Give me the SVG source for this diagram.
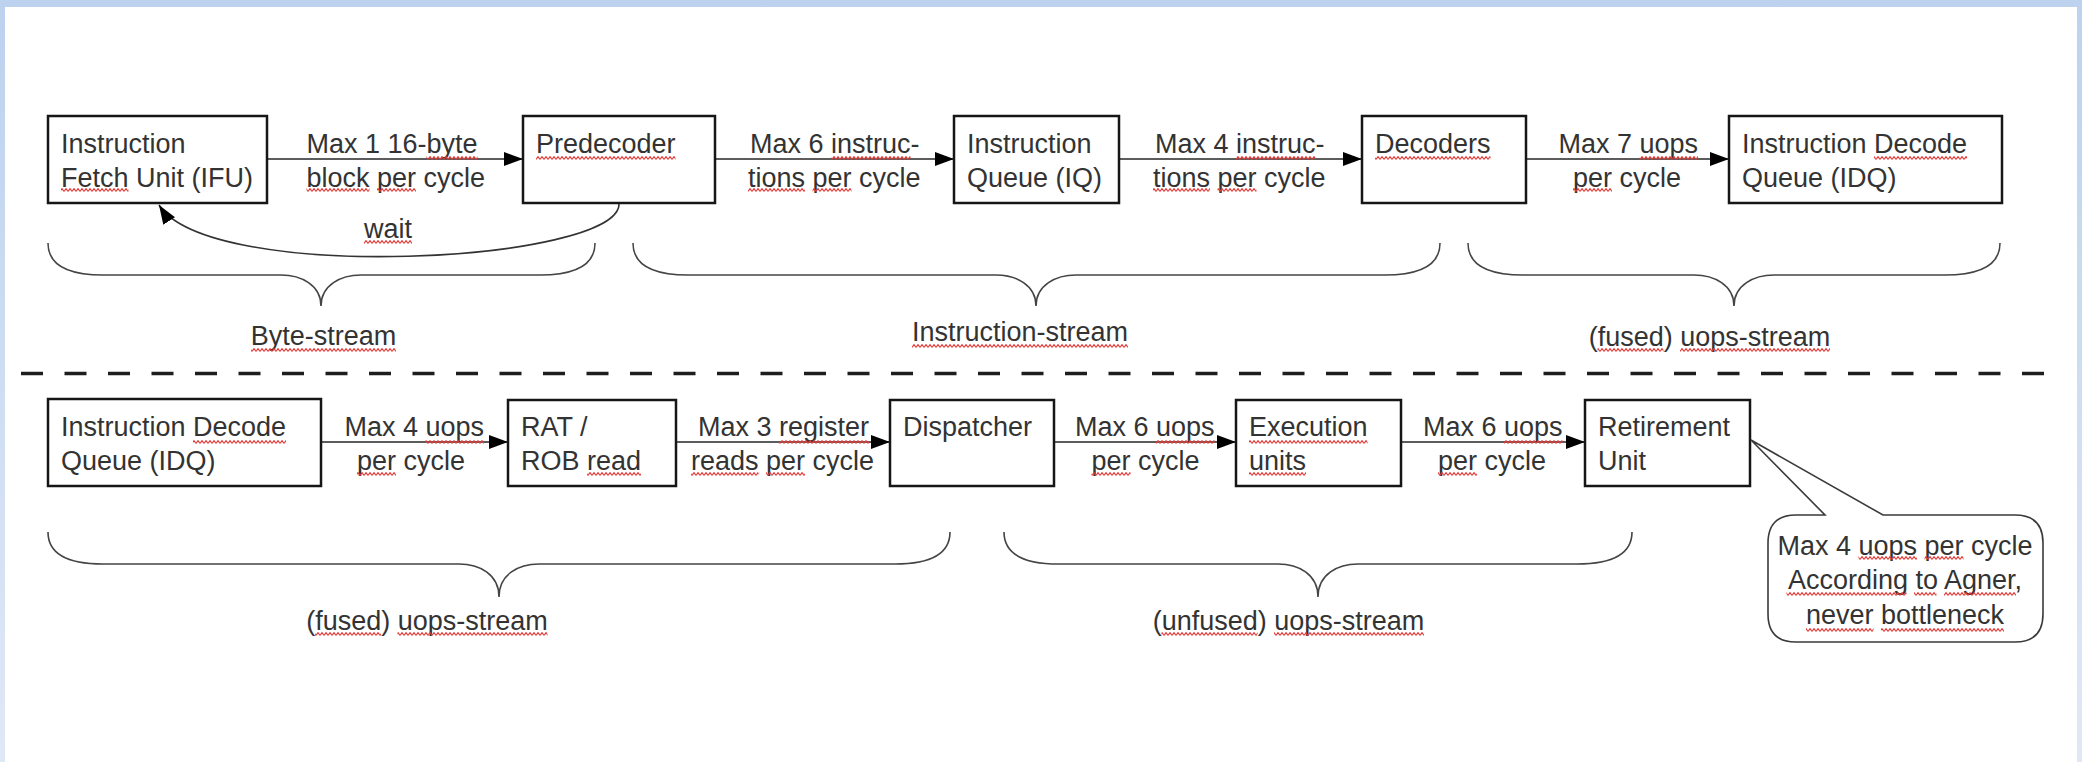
<svg xmlns="http://www.w3.org/2000/svg" width="2082" height="762" viewBox="0 0 2082 762">
  <defs>
    <linearGradient id="frameBg" x1="0" y1="0" x2="0" y2="1">
      <stop offset="0" stop-color="#bdd2ee"/>
      <stop offset="1" stop-color="#dfe8f6"/>
    </linearGradient>
    <marker id="arrow" markerUnits="userSpaceOnUse" markerWidth="20" markerHeight="14" refX="19" refY="7" orient="auto">
      <path d="M0,0 L19,7 L0,14 Z" fill="#000"/>
    </marker>
    <pattern id="squiggle" width="4" height="4" patternUnits="userSpaceOnUse">
      <path d="M0,3.4 L2,0.6 L4,3.4" fill="none" stroke="#e53935" stroke-width="1.1"/>
    </pattern>
    <style>
      text { font-family: "Liberation Sans", Arial, sans-serif; font-size: 27px; fill: #333; }
      .mid { text-anchor: middle; }
      .box { fill: #fff; stroke: #161616; stroke-width: 2.5; }
      .flow { fill: none; stroke: #5c5c5c; stroke-width: 2; marker-end: url(#arrow); }
      .back { fill: none; stroke: #333; stroke-width: 1.6; marker-end: url(#arrow); }
      .brace { fill: none; stroke: #444; stroke-width: 1.6; }
      .divider { fill: none; stroke: #1e1e1e; stroke-width: 3.5; stroke-dasharray: 22 21.5; }
      .callout { fill: #fff; stroke: #3a3a3a; stroke-width: 1.6; }
      .sq { fill: url(#squiggle); }
    </style>
  </defs>

  <!-- page -->
  <rect x="0" y="0" width="2082" height="762" fill="url(#frameBg)"/>
  <rect x="5" y="7" width="2072" height="755" fill="#fff"/>

  <!-- stage divider -->
  <line class="divider" x1="21" y1="373.5" x2="2052" y2="373.5"/>

  <!-- connectors -->
  <g id="connectors">
    <line class="flow" x1="267" y1="159" x2="523" y2="159"/>
    <line class="flow" x1="715" y1="159" x2="954" y2="159"/>
    <line class="flow" x1="1119" y1="159" x2="1362" y2="159"/>
    <line class="flow" x1="1526" y1="159" x2="1729" y2="159"/>
    <line class="flow" x1="321" y1="442" x2="508" y2="442"/>
    <line class="flow" x1="676" y1="442" x2="890" y2="442"/>
    <line class="flow" x1="1054" y1="442" x2="1236" y2="442"/>
    <line class="flow" x1="1401" y1="442" x2="1585" y2="442"/>
    <path class="back" d="M619,204 C619,262 210,285 159,205"/>

    <text x="306.5" y="153">Max 1 16-byte</text>
    <text x="306.5" y="187">block per cycle</text>
    <text x="750" y="153">Max 6 instruc-</text>
    <text x="748" y="187">tions per cycle</text>
    <text x="1155" y="153">Max 4 instruc-</text>
    <text x="1153" y="187">tions per cycle</text>
    <text x="1558.5" y="153">Max 7 uops</text>
    <text x="1573" y="187">per cycle</text>
    <text class="mid" x="388" y="238">wait</text>

    <text x="344.5" y="436">Max 4 uops</text>
    <text x="357" y="470">per cycle</text>
    <text x="698" y="436">Max 3 register</text>
    <text x="691" y="470">reads per cycle</text>
    <text x="1075" y="436">Max 6 uops</text>
    <text x="1091.5" y="470">per cycle</text>
    <text x="1423" y="436">Max 6 uops</text>
    <text x="1438" y="470">per cycle</text>
  </g>

  <!-- front end -->
  <g id="ifu">
    <rect class="box" x="48" y="116" width="219" height="87"/>
    <text x="61" y="153">Instruction</text>
    <text x="61" y="187">Fetch Unit (IFU)</text>
  </g>
  <g id="predecoder">
    <rect class="box" x="523" y="116" width="192" height="87"/>
    <text x="536" y="153">Predecoder</text>
  </g>
  <g id="iq">
    <rect class="box" x="954" y="116" width="165" height="87"/>
    <text x="967" y="153">Instruction</text>
    <text x="967" y="187">Queue (IQ)</text>
  </g>
  <g id="decoders">
    <rect class="box" x="1362" y="116" width="164" height="87"/>
    <text x="1375" y="153">Decoders</text>
  </g>
  <g id="idq-top">
    <rect class="box" x="1729" y="116" width="273" height="87"/>
    <text x="1742" y="153">Instruction Decode</text>
    <text x="1742" y="187">Queue (IDQ)</text>
  </g>

  <!-- back end -->
  <g id="idq-bottom">
    <rect class="box" x="48" y="399" width="273" height="87"/>
    <text x="61" y="436">Instruction Decode</text>
    <text x="61" y="470">Queue (IDQ)</text>
  </g>
  <g id="rat-rob">
    <rect class="box" x="508" y="400" width="168" height="86"/>
    <text x="521" y="436">RAT /</text>
    <text x="521" y="470">ROB read</text>
  </g>
  <g id="dispatcher">
    <rect class="box" x="890" y="400" width="164" height="86"/>
    <text x="903" y="436">Dispatcher</text>
  </g>
  <g id="execution">
    <rect class="box" x="1236" y="400" width="165" height="86"/>
    <text x="1249" y="436">Execution</text>
    <text x="1249" y="470">units</text>
  </g>
  <g id="retirement">
    <rect class="box" x="1585" y="400" width="165" height="86"/>
    <text x="1598" y="436">Retirement</text>
    <text x="1598" y="470">Unit</text>
  </g>

  <!-- stream braces -->
  <g id="braces">
    <path class="brace" d="M48,243 C48,265 68,275 103,275 L281,275 C301,275 321,285 321,306 C321,285 341,275 361,275 L540,275 C575,275 595,265 595,243"/>
    <path class="brace" d="M633,243 C633,265 653,275 688,275 L996,275 C1016,275 1036,285 1036,306 C1036,285 1056,275 1076,275 L1385,275 C1420,275 1440,265 1440,243"/>
    <path class="brace" d="M1468,243 C1468,265 1488,275 1523,275 L1694,275 C1714,275 1734,285 1734,306 C1734,285 1754,275 1774,275 L1945,275 C1980,275 2000,265 2000,243"/>
    <path class="brace" d="M48,532 C48,554 68,564 103,564 L459,564 C479,564 499,574 499,597 C499,574 519,564 539,564 L895,564 C930,564 950,554 950,532"/>
    <path class="brace" d="M1004,532 C1004,554 1024,564 1059,564 L1278,564 C1298,564 1318,574 1318,597 C1318,574 1338,564 1358,564 L1577,564 C1612,564 1632,554 1632,532"/>
    <text class="mid" x="323.5" y="345">Byte-stream</text>
    <text class="mid" x="1020" y="341">Instruction-stream</text>
    <text class="mid" x="1709.5" y="346">(fused) uops-stream</text>
    <text class="mid" x="427" y="630">(fused) uops-stream</text>
    <text class="mid" x="1288.5" y="630">(unfused) uops-stream</text>
  </g>

  <!-- retirement note -->
  <g id="note">
    <path class="callout" d="M1796,515 L1825,515 L1751,440 L1883,515 L2015,515 Q2043,515 2043,543 L2043,614 Q2043,642 2015,642 L1796,642 Q1768,642 1768,614 L1768,543 Q1768,515 1796,515 Z"/>
    <text class="mid" x="1905" y="555">Max 4 uops per cycle</text>
    <text class="mid" x="1905" y="589">According to Agner,</text>
    <text class="mid" x="1905" y="624">never bottleneck</text>
  </g>

  <!-- spell-check underlines -->
  <g id="squiggles">
    <rect class="sq" x="61" y="188" width="67.5" height="4"/>
    <rect class="sq" x="426.5" y="156" width="51" height="4"/>
    <rect class="sq" x="306.5" y="188" width="63" height="4"/>
    <rect class="sq" x="377" y="188" width="39" height="4"/>
    <rect class="sq" x="536" y="156" width="139.5" height="4"/>
    <rect class="sq" x="364" y="240" width="48" height="4"/>
    <rect class="sq" x="831" y="156" width="79.5" height="4"/>
    <rect class="sq" x="748" y="188" width="57" height="4"/>
    <rect class="sq" x="812.5" y="188" width="39" height="4"/>
    <rect class="sq" x="1236" y="156" width="79.5" height="4"/>
    <rect class="sq" x="1153" y="188" width="57" height="4"/>
    <rect class="sq" x="1217.5" y="188" width="39" height="4"/>
    <rect class="sq" x="1375" y="156" width="115.5" height="4"/>
    <rect class="sq" x="1639.5" y="156" width="58.5" height="4"/>
    <rect class="sq" x="1573" y="188" width="39" height="4"/>
    <rect class="sq" x="1874" y="156" width="93" height="4"/>
    <rect class="sq" x="251" y="348" width="145" height="4"/>
    <rect class="sq" x="912" y="344" width="216" height="4"/>
    <rect class="sq" x="1597.5" y="348" width="66" height="4"/>
    <rect class="sq" x="1680" y="348" width="150" height="4"/>

    <rect class="sq" x="193" y="440" width="93" height="4"/>
    <rect class="sq" x="425.5" y="440" width="58.5" height="4"/>
    <rect class="sq" x="357" y="472" width="39" height="4"/>
    <rect class="sq" x="587" y="472" width="54" height="4"/>
    <rect class="sq" x="779" y="440" width="90" height="4"/>
    <rect class="sq" x="691" y="472" width="67.5" height="4"/>
    <rect class="sq" x="766" y="472" width="39" height="4"/>
    <rect class="sq" x="1156" y="440" width="58.5" height="4"/>
    <rect class="sq" x="1091.5" y="472" width="39" height="4"/>
    <rect class="sq" x="1249" y="440" width="118.5" height="4"/>
    <rect class="sq" x="1249" y="472" width="57" height="4"/>
    <rect class="sq" x="1504" y="440" width="58.5" height="4"/>
    <rect class="sq" x="1438" y="472" width="39" height="4"/>
    <rect class="sq" x="315" y="632" width="66" height="4"/>
    <rect class="sq" x="397.5" y="632" width="150" height="4"/>
    <rect class="sq" x="1161.5" y="632" width="96" height="4"/>
    <rect class="sq" x="1274" y="632" width="150" height="4"/>
    <rect class="sq" x="1858.5" y="556" width="58.5" height="4"/>
    <rect class="sq" x="1924.5" y="556" width="39" height="4"/>
    <rect class="sq" x="1786.5" y="592" width="120" height="4"/>
    <rect class="sq" x="1914" y="592" width="22.5" height="4"/>
    <rect class="sq" x="1944" y="592" width="72" height="4"/>
    <rect class="sq" x="1806" y="628" width="67.5" height="4"/>
    <rect class="sq" x="1881" y="628" width="123" height="4"/>
  </g>
</svg>
